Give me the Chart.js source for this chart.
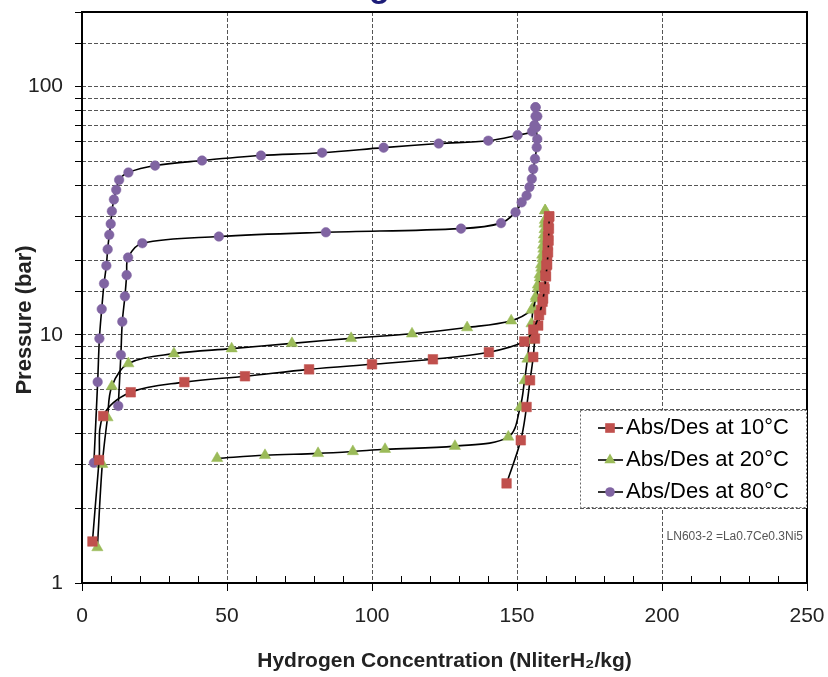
<!DOCTYPE html>
<html>
<head>
<meta charset="utf-8">
<title>PCT isotherms LN603-2</title>
<script src="https://cdn.jsdelivr.net/npm/chart.js@4.4.0/dist/chart.umd.min.js"></script>
<style>
  html, body { margin: 0; padding: 0; background: #fff; }
  #wrap { width: 828px; height: 677px; position: relative; }
</style>
</head>
<body>
<div id="wrap"><canvas id="pct"></canvas></div>
<script>
// [hydrogen concentration, pressure]
const abs10 = [[3.6,1.47],[5.9,3.13],[7.3,4.71],[16.8,5.87],[35.3,6.45],[56.2,6.81],[78.3,7.26],[100,7.61],[121,7.97],[140.3,8.51],[152.5,9.4],[155.6,10.5],[157.6,12.0],[158.8,13.6],[159.5,15.3],[160,17.2],[160.4,19.2],[160.7,21.5],[160.9,24],[161,26.8],[161.1,30]];
const des10 = [[161.1,30],[160.8,27.6],[160.7,25],[160.6,22.9],[160.4,20.9],[160.1,19],[159.8,17.4],[159.3,15.6],[159,14],[158.3,12.6],[157.3,10.9],[156.2,9.66],[155.6,8.14],[154.5,6.56],[153.3,5.12],[151.3,3.76],[146.4,2.52]];
const abs20 = [[5.3,1.39],[7.0,3.01],[8.8,4.64],[10.3,6.2],[16,7.66],[31.7,8.4],[51.6,8.8],[72.4,9.24],[92.8,9.68],[113.8,10.1],[132.8,10.7],[148,11.4],[155,12.6],[156.5,14],[157.3,15.5],[157.9,17],[158.4,18.6],[158.8,20.3],[159.1,22.2],[159.3,24.3],[159.5,26.6],[159.6,29],[159.7,31.7]];
const des20 = [[159.7,31.7],[159.5,28],[159.3,25.3],[159,23],[158.7,21],[158.3,19.2],[157.8,17.5],[157.2,15.9],[156.5,14.3],[155.6,12.9],[155,11.1],[154.3,9.5],[153.6,8.0],[152.6,6.55],[151.1,5.11],[147,3.88],[128.6,3.56],[104.5,3.46],[93.4,3.39],[81.4,3.33],[63.1,3.27],[46.6,3.18]];
const abs80 = [[4.1,3.05],[5.4,6.46],[6.0,9.66],[6.8,12.7],[7.6,16.1],[8.4,19.0],[8.85,22.1],[9.4,25.3],[9.9,28.0],[10.3,31.5],[11.0,35.1],[11.8,38.4],[12.8,42.1],[16.0,45.1],[25.2,48.1],[41.4,50.4],[61.7,52.8],[82.8,54.2],[104,56.8],[123,59.0],[140.1,60.6],[150.2,63.8],[155.2,66],[156.0,70],[156.4,76],[156.4,82.6]];
const des80 = [[156.4,82.6],[157,76],[156.6,68.6],[157,61.5],[156.8,57],[156.2,51.2],[155.6,46.6],[155.1,42.5],[154.3,39.4],[153.3,36.4],[151.6,34.2],[149.5,31.2],[144.5,28.2],[130.7,26.8],[84.1,25.9],[47.2,24.9],[20.8,23.4],[15.9,20.5],[15.4,17.4],[14.8,14.3],[13.9,11.3],[13.4,8.3],[12.5,5.17]];

const seriesLabels = ['Abs/Des at 10°C', 'Abs/Des at 20°C', 'Abs/Des at 80°C'];
const yLabels = [1, 10, 100];
const xMajor = 50;
const xMinor = 10;
const yTitle = 'Pressure (bar)';
const note = 'LN603-2 =La0.7Ce0.3Ni5';

const styles = [
    { color: '#c0504d', pointStyle: 'rect', radius: 6.8 },
    { color: '#9bbb59', pointStyle: 'triangle', radius: 6.5 },
    { color: '#8064a2', pointStyle: 'circle', radius: 4.8 }
];

const FONT = "'Liberation Sans', Arial, sans-serif";

function branch(points, s) {
    return {
        data: points.map(p => ({ x: p[0], y: p[1] })),
        showLine: true,
        tension: 0.35,
        borderColor: '#000',
        borderWidth: 1.6,
        pointStyle: s.pointStyle,
        pointRadius: s.radius,
        pointBackgroundColor: s.color,
        pointBorderColor: s.color,
        pointBorderWidth: 0.5
    };
}

const datasets = [
    branch(abs10, styles[0]), branch(des10, styles[0]),
    branch(abs20, styles[1]), branch(des20, styles[1]),
    branch(abs80, styles[2]), branch(des80, styles[2])
];

function drawMarker(ctx, s, x, y) {
    ctx.fillStyle = s.color;
    ctx.beginPath();
    if (s.pointStyle === 'rect') {
        const h = s.radius * Math.SQRT1_2;
        ctx.rect(x - h, y - h, 2 * h, 2 * h);
    } else if (s.pointStyle === 'triangle') {
        const r = s.radius;
        ctx.moveTo(x, y - r);
        ctx.lineTo(x + r * 0.866, y + r * 0.5);
        ctx.lineTo(x - r * 0.866, y + r * 0.5);
        ctx.closePath();
    } else {
        ctx.arc(x, y, s.radius, 0, Math.PI * 2);
    }
    ctx.fill();
}

// frame, minor x ticks, legend box, note, y title and the clipped slide title
const decorations = {
    id: 'decorations',
    afterDraw(chart) {
        const ctx = chart.ctx;
        const a = chart.chartArea;
        const xs = chart.scales.x;

        ctx.save();
        ctx.strokeStyle = '#000';
        ctx.lineWidth = 1;
        ctx.beginPath();
        for (let v = xMinor; v < 250; v += xMinor) {
            if (v % xMajor === 0) continue;
            const px = Math.round(xs.getPixelForValue(v)) + 0.5;
            ctx.moveTo(px, a.bottom);
            ctx.lineTo(px, a.bottom - 7);
        }
        ctx.stroke();

        ctx.lineWidth = 2;
        ctx.strokeRect(a.left, a.top, a.right - a.left, a.bottom - a.top);

        // legend
        const lx = a.right - 227, ly = 410, lw = 227, lh = 98;
        ctx.fillStyle = '#fff';
        ctx.fillRect(lx, ly, lw, lh);
        ctx.setLineDash([2, 2]);
        ctx.lineWidth = 1;
        ctx.strokeStyle = '#666';
        ctx.strokeRect(lx + 0.5, ly + 0.5, lw - 1, lh - 1);
        ctx.setLineDash([]);
        ctx.font = '22px ' + FONT;
        ctx.textBaseline = 'middle';
        seriesLabels.forEach((label, i) => {
            const y = ly + 18 + i * 32;
            ctx.strokeStyle = '#000';
            ctx.lineWidth = 1.6;
            ctx.beginPath();
            ctx.moveTo(lx + 18, y);
            ctx.lineTo(lx + 43, y);
            ctx.stroke();
            drawMarker(ctx, styles[i], lx + 30, y);
            ctx.fillStyle = '#000';
            ctx.fillText(label, lx + 46, y);
        });

        ctx.font = '12px ' + FONT;
        ctx.fillStyle = '#555';
        ctx.textAlign = 'right';
        ctx.fillText(note, a.right - 4, 537);

        // y axis title, sits a little below the middle of the plot
        ctx.save();
        ctx.translate(25, 320);
        ctx.rotate(-Math.PI / 2);
        ctx.font = 'bold 22px ' + FONT;
        ctx.fillStyle = '#222';
        ctx.textAlign = 'center';
        ctx.fillText(yTitle, 0, 0);
        ctx.restore();

        // bottom of the cropped slide title
        ctx.font = 'bold 34px ' + FONT;
        ctx.fillStyle = '#1c1c78';
        ctx.textAlign = 'left';
        ctx.textBaseline = 'alphabetic';
        ctx.fillText('g', 369, -3);
        ctx.restore();
    }
};

new Chart(document.getElementById('pct'), {
    type: 'scatter',
    data: { datasets: datasets },
    options: {
        responsive: true,
        maintainAspectRatio: false,
        animation: false,
        layout: { padding: { top: 12, right: 21, left: 0, bottom: 0 } },
        plugins: {
            legend: { display: false },
            tooltip: { enabled: false }
        },
        scales: {
            x: {
                type: 'linear',
                min: 0,
                max: 250,
                afterFit: s => {
                    s.height = 94;
                    s.paddingLeft = 0;
                    s.paddingRight = 0;
                },
                ticks: {
                    stepSize: xMinor,
                    autoSkip: false,
                    maxRotation: 0,
                    padding: 13,
                    color: '#222',
                    font: { family: FONT, size: 21 },
                    callback: v => (v % xMajor === 0 ? v : '')
                },
                grid: {
                    color: c => (c.tick && c.tick.value % xMajor === 0 ? '#555' : 'rgba(0,0,0,0)'),
                    tickColor: c => (c.tick && c.tick.value % xMajor === 0 ? '#000' : 'rgba(0,0,0,0)'),
                    tickLength: 8,
                    lineWidth: 1
                },
                border: { display: false, dash: [4, 2] },
                title: {
                    display: true,
                    text: 'Hydrogen Concentration (NliterH₂/kg)',
                    color: '#222',
                    font: { family: FONT, size: 21, weight: 'bold' },
                    padding: { top: 0, bottom: 3 }
                }
            },
            y: {
                type: 'logarithmic',
                min: 1,
                max: 200,
                afterFit: s => {
                    s.width = 82;
                    s.paddingTop = 0;
                    s.paddingBottom = 0;
                },
                ticks: {
                    autoSkip: false,
                    padding: 12,
                    color: '#222',
                    font: { family: FONT, size: 21 },
                    callback: v => (yLabels.includes(v) ? v : '')
                },
                grid: {
                    color: '#555',
                    tickColor: '#000',
                    tickLength: 7,
                    lineWidth: 1
                },
                border: { display: false, dash: [4, 2] }
            }
        }
    },
    plugins: [decorations]
});
</script>
</body>
</html>
